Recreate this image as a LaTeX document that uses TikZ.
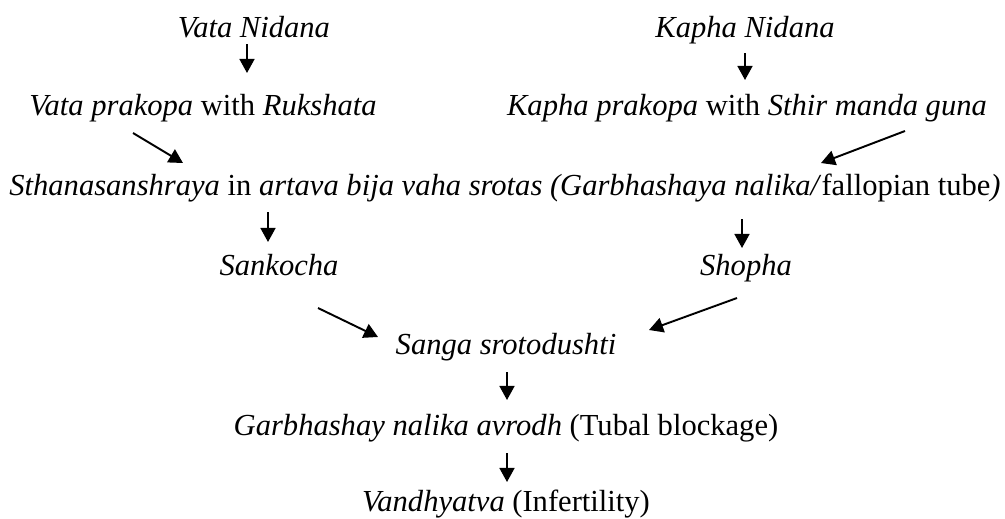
\documentclass[tikz,border=0pt]{standalone}
\usepackage{fontspec}
\setmainfont{Liberation Serif}
\usepackage{tikz}
\usetikzlibrary{arrows.meta, calc}

\begin{document}
\begin{tikzpicture}[x=0.02cm, y=-0.02cm, >={Triangle[length=8pt, width=8.5pt]}, line width=1.1pt,
    every node/.style={font=\fontsize{17.4}{21}\selectfont, anchor=base, inner sep=0pt}]
        \useasboundingbox (0,0) rectangle (1005,518);
        % Nodes
        \node (vn) at (254, 37) {\textit{Vata Nidana}};
        \node (kn) at (745, 37) {\textit{Kapha Nidana}};
        \node (vp) at (203, 115) {\textit{Vata prakopa} with \textit{Rukshata}};
        \node (kp) at (747, 115) {\textit{Kapha prakopa} with \textit{Sthir manda guna}};
        \node (sth) at (505, 195) {\textit{Sthanasanshraya} in \textit{artava bija vaha srotas (Garbhashaya nalika/}fallopian tube\textit{)}};
        \node (sk) at (279, 275) {\textit{Sankocha}};
        \node (sh) at (746, 275) {\textit{Shopha}};
        \node (sg) at (506, 354) {\textit{Sanga srotodushti}};
        \node (gn) at (506, 435) {\textit{Garbhashay nalika avrodh} (Tubal blockage)};
        \node (vd) at (506, 511) {\textit{Vandhyatva} (Infertility)};

        % Directed edges
        \draw[->] ($(vn.base)+(-7,7)$) -- ($(vp.base)+(44,-42)$);
        \draw[->] ($(kn.base)+(0,16)$) -- ($(kp.base)+(-2,-35)$);
        \draw[->] ($(vp.base)+(-70,18)$) -- ($(sth.base)+(-322,-32)$);
        \draw[->] ($(kp.base)+(158,16)$) -- ($(sth.base)+(316,-32)$);
        \draw[->] ($(sth.base)+(-237,17)$) -- ($(sk.base)+(-11,-33)$);
        \draw[->] ($(sth.base)+(237,24)$) -- ($(sh.base)+(-4,-27)$);
        \draw[->] ($(sk.base)+(39,33)$) -- ($(sg.base)+(-128,-17)$);
        \draw[->] ($(sh.base)+(-9,23)$) -- ($(sg.base)+(143,-24)$);
        \draw[->] ($(sg.base)+(1,18)$) -- ($(gn.base)+(1,-35)$);
        \draw[->] ($(gn.base)+(1,18)$) -- ($(vd.base)+(1,-29)$);
    \end{tikzpicture}
\end{document}
